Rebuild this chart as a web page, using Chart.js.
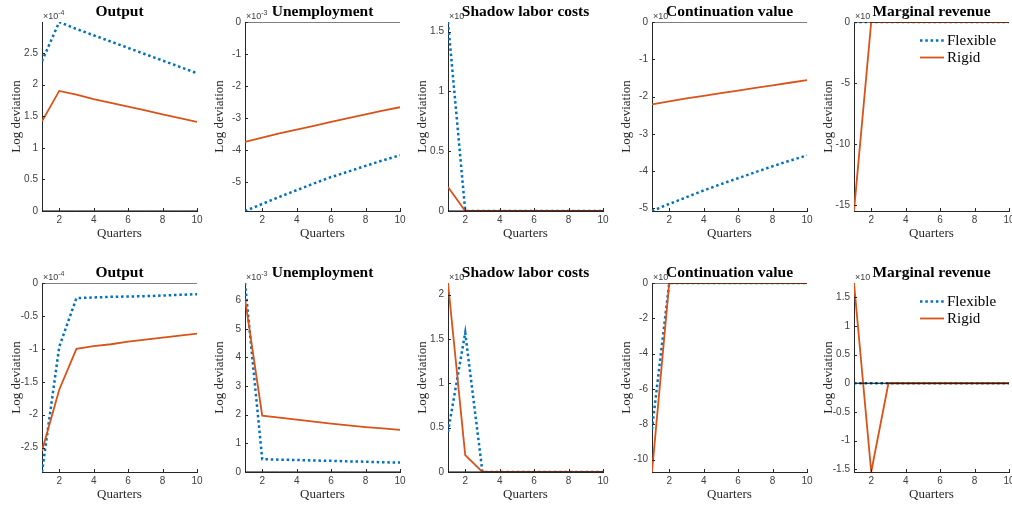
<!DOCTYPE html>
<html>
<head>
<meta charset="utf-8">
<script src="https://cdn.jsdelivr.net/npm/chart.js@4/dist/chart.umd.min.js"></script>
<style>
  html, body { margin: 0; padding: 0; background: #fff; overflow: hidden; width: 1012px; height: 508px; }
  canvas { position: absolute; }
</style>
</head>
<body>
<script>
// x values and x tick labels shared by every panel
const quarters = [1, 2, 3, 4, 5, 6, 7, 8, 9, 10];
const xTicks = [2, 4, 6, 8, 10];

// top row
const outputFlex1 = [2.37, 2.99, 2.88, 2.78, 2.68, 2.58, 2.48, 2.38, 2.28, 2.18];
const outputRigid1 = [1.42, 1.90, 1.84, 1.77, 1.71, 1.65, 1.59, 1.53, 1.47, 1.41];
const unempFlex1 = [-5.90, -5.68, -5.46, -5.25, -5.04, -4.84, -4.67, -4.49, -4.32, -4.16];
const unempRigid1 = [-3.74, -3.61, -3.48, -3.36, -3.24, -3.12, -3.00, -2.88, -2.77, -2.66];
const shadowFlex1 = [1.58, 0, 0, 0, 0, 0, 0, 0, 0, 0];
const shadowRigid1 = [0.20, 0, 0, 0, 0, 0, 0, 0, 0, 0];
const contFlex1 = [-5.07, -4.88, -4.70, -4.52, -4.35, -4.19, -4.03, -3.87, -3.72, -3.58];
const contRigid1 = [-2.21, -2.13, -2.05, -1.98, -1.91, -1.84, -1.77, -1.70, -1.63, -1.56];
const mrFlex1 = [0, 0, 0, 0, 0, 0, 0, 0, 0, 0];
const mrRigid1 = [-15.45, 0, 0, 0, 0, 0, 0, 0, 0, 0];

// bottom row
const outputFlex2 = [-2.87, -0.97, -0.23, -0.22, -0.21, -0.205, -0.20, -0.19, -0.18, -0.17];
const outputRigid2 = [-2.55, -1.62, -1.00, -0.96, -0.93, -0.89, -0.86, -0.83, -0.80, -0.77];
const unempFlex2 = [6.60, 0.45, 0.43, 0.42, 0.40, 0.39, 0.37, 0.36, 0.34, 0.33];
const unempRigid2 = [6.05, 1.97, 1.90, 1.83, 1.76, 1.69, 1.63, 1.57, 1.52, 1.47];
const shadowFlex2 = [0.45, 1.57, 0, 0, 0, 0, 0, 0, 0, 0];
const shadowRigid2 = [2.13, 0.19, 0, 0, 0, 0, 0, 0, 0, 0];
const contFlex2 = [-8.28, 0, 0, 0, 0, 0, 0, 0, 0, 0];
const contRigid2 = [-10.7, 0, 0, 0, 0, 0, 0, 0, 0, 0];
const mrFlex2 = [0, 0, 0, 0, 0, 0, 0, 0, 0, 0];
const mrRigid2 = [1.75, -1.55, 0, 0, 0, 0, 0, 0, 0, 0];
const zeroLine = [0, 0, 0, 0, 0, 0, 0, 0, 0, 0];

// y tick labels per panel
const yTicksOutput1 = [0, 0.5, 1, 1.5, 2, 2.5];
const yTicksUnemp1 = [-5, -4, -3, -2, -1, 0];
const yTicksShadow1 = [0, 0.5, 1, 1.5];
const yTicksCont1 = [-5, -4, -3, -2, -1, 0];
const yTicksMr1 = [-15, -10, -5, 0];
const yTicksOutput2 = [-2.5, -2, -1.5, -1, -0.5, 0];
const yTicksUnemp2 = [0, 1, 2, 3, 4, 5, 6];
const yTicksShadow2 = [0, 0.5, 1, 1.5, 2];
const yTicksCont2 = [-10, -8, -6, -4, -2, 0];
const yTicksMr2 = [-1.5, -1, -0.5, 0, 0.5, 1, 1.5];

const titles = ['Output', 'Unemployment', 'Shadow labor costs', 'Continuation value', 'Marginal revenue'];
const legendLabels = ['Flexible', 'Rigid'];

const panels = [
  { row: 0, col: 0, flex: outputFlex1, rigid: outputRigid1, yTicks: yTicksOutput1, exp: '-4' },
  { row: 0, col: 1, flex: unempFlex1, rigid: unempRigid1, yTicks: yTicksUnemp1, exp: '-3' },
  { row: 0, col: 2, flex: shadowFlex1, rigid: shadowRigid1, yTicks: yTicksShadow1, exp: '' },
  { row: 0, col: 3, flex: contFlex1, rigid: contRigid1, yTicks: yTicksCont1, exp: '' },
  { row: 0, col: 4, flex: mrFlex1, rigid: mrRigid1, yTicks: yTicksMr1, exp: '', legend: true },
  { row: 1, col: 0, flex: outputFlex2, rigid: outputRigid2, yTicks: yTicksOutput2, exp: '-4' },
  { row: 1, col: 1, flex: unempFlex2, rigid: unempRigid2, yTicks: yTicksUnemp2, exp: '-3' },
  { row: 1, col: 2, flex: shadowFlex2, rigid: shadowRigid2, yTicks: yTicksShadow2, exp: '' },
  { row: 1, col: 3, flex: contFlex2, rigid: contRigid2, yTicks: yTicksCont2, exp: '' },
  { row: 1, col: 4, flex: mrFlex2, rigid: mrRigid2, yTicks: yTicksMr2, exp: '', legend: true }
];

// plot-area placement on the page
const colLeft = [42, 245, 448, 652, 854];
const rowTop = [22, 283];
const plotW = 155, plotH = 189;
const yAxisW = 42, xAxisH = 36, padTop = 22, padRight = 10;

const BLUE = '#0072BD';
const ORANGE = '#D95319';
const AXIS = '#262626';
const TICKTXT = '#404040';

// MATLAB-ish decorations: inward ticks, exponent, title, legend
const decor = {
  id: 'decor',
  afterDatasetsDraw(chart, args, opts) {
    const { ctx, chartArea: a, scales: { x, y } } = chart;
    ctx.save();
    ctx.strokeStyle = AXIS;
    ctx.lineWidth = 1;
    ctx.beginPath();
    x.ticks.forEach(t => {
      const px = Math.round(x.getPixelForValue(t.value)) + 0.5;
      ctx.moveTo(px, a.bottom);
      ctx.lineTo(px, a.bottom - 3);
    });
    y.ticks.forEach(t => {
      const py = Math.round(y.getPixelForValue(t.value)) + 0.5;
      ctx.moveTo(a.left, py);
      ctx.lineTo(a.left + 3, py);
    });
    ctx.stroke();

    // exponent label
    ctx.fillStyle = TICKTXT;
    ctx.textAlign = 'left';
    ctx.textBaseline = 'alphabetic';
    ctx.font = '9px "Liberation Sans"';
    ctx.fillText('×10', a.left + 1, a.top - 3);
    const w = ctx.measureText('×10').width;
    if (opts.exp) {
      ctx.font = '7px "Liberation Sans"';
      ctx.fillText(opts.exp, a.left + 1 + w, a.top - 7);
    }

    // title
    ctx.fillStyle = '#000';
    ctx.font = 'bold 15.5px "Liberation Serif"';
    ctx.textAlign = 'center';
    ctx.textBaseline = 'middle';
    ctx.fillText(opts.title, (a.left + a.right) / 2, a.top - 10.5);

    // legend inside the plot, top right
    if (opts.legend) {
      const ds = chart.data.datasets;
      [0, 1].forEach(i => {
        const ly = a.top + 18.5 + i * 17;
        ctx.strokeStyle = ds[i].borderColor;
        ctx.lineWidth = ds[i].borderWidth;
        ctx.setLineDash(ds[i].borderDash || []);
        ctx.beginPath();
        ctx.moveTo(a.left + 66, ly);
        ctx.lineTo(a.left + 90, ly);
        ctx.stroke();
        ctx.setLineDash([]);
        ctx.fillStyle = '#000';
        ctx.font = '15px "Liberation Serif"';
        ctx.textAlign = 'left';
        ctx.textBaseline = 'middle';
        ctx.fillText(legendLabels[i], a.left + 93, ly + 1);
      });
    }
    ctx.restore();
  }
};

const fmt = v => String(Math.round(v * 100) / 100);
const pts = arr => quarters.map((q, i) => ({ x: q, y: arr[i] }));

panels.forEach(p => {
  const cv = document.createElement('canvas');
  const cw = yAxisW + plotW + padRight;
  const ch = padTop + plotH + xAxisH;
  cv.width = cw;
  cv.height = ch;
  cv.style.left = (colLeft[p.col] - yAxisW) + 'px';
  cv.style.top = (rowTop[p.row] - padTop) + 'px';
  document.body.appendChild(cv);

  const all = p.flex.concat(p.rigid, [0]);
  const lo = Math.min(...all);
  const hi = Math.max(...all);

  new Chart(cv.getContext('2d'), {
    type: 'line',
    data: {
      datasets: [
        { label: 'Flexible', data: pts(p.flex), borderColor: BLUE, borderWidth: 2.5,
          borderDash: [2.5, 2.8], borderCapStyle: 'butt', pointRadius: 0, order: 2 },
        { label: 'Rigid', data: pts(p.rigid), borderColor: ORANGE, borderWidth: 1.8,
          pointRadius: 0, order: 1 },
        { label: 'zero', data: pts(zeroLine), borderColor: '#000', borderWidth: 1,
          pointRadius: 0, order: 0 }
      ]
    },
    options: {
      responsive: false,
      animation: false,
      devicePixelRatio: 1,
      layout: { autoPadding: false, padding: { top: padTop, right: padRight, left: 0, bottom: 0 } },
      plugins: {
        legend: { display: false },
        tooltip: { enabled: false },
        decor: { title: titles[p.col], exp: p.exp, legend: !!p.legend }
      },
      scales: {
        x: {
          type: 'linear', min: 1, max: 10,
          afterFit: s => { s.height = xAxisH; },
          afterBuildTicks: s => { s.ticks = xTicks.map(v => ({ value: v })); },
          grid: { display: false, drawTicks: false },
          border: { color: AXIS, width: 1 },
          ticks: { color: TICKTXT, font: { family: 'Liberation Sans', size: 10 }, padding: 3,
                   autoSkip: false, maxRotation: 0, callback: v => fmt(v) },
          title: { display: true, text: 'Quarters', color: AXIS,
                   font: { family: 'Liberation Serif', size: 13 }, padding: { top: 2, bottom: 6 } }
        },
        y: {
          type: 'linear', min: lo, max: hi,
          afterFit: s => { s.width = yAxisW; },
          afterBuildTicks: s => { s.ticks = p.yTicks.map(v => ({ value: v })); },
          grid: { display: false, drawTicks: false },
          border: { color: AXIS, width: 1 },
          ticks: { color: TICKTXT, font: { family: 'Liberation Sans', size: 10 }, padding: 4,
                   autoSkip: false, callback: v => fmt(v) },
          title: { display: true, text: 'Log deviation', color: AXIS,
                   font: { family: 'Liberation Serif', size: 13 }, padding: { top: 9, bottom: 0 } }
        }
      }
    },
    plugins: [decor]
  });
});
</script>
</body>
</html>
